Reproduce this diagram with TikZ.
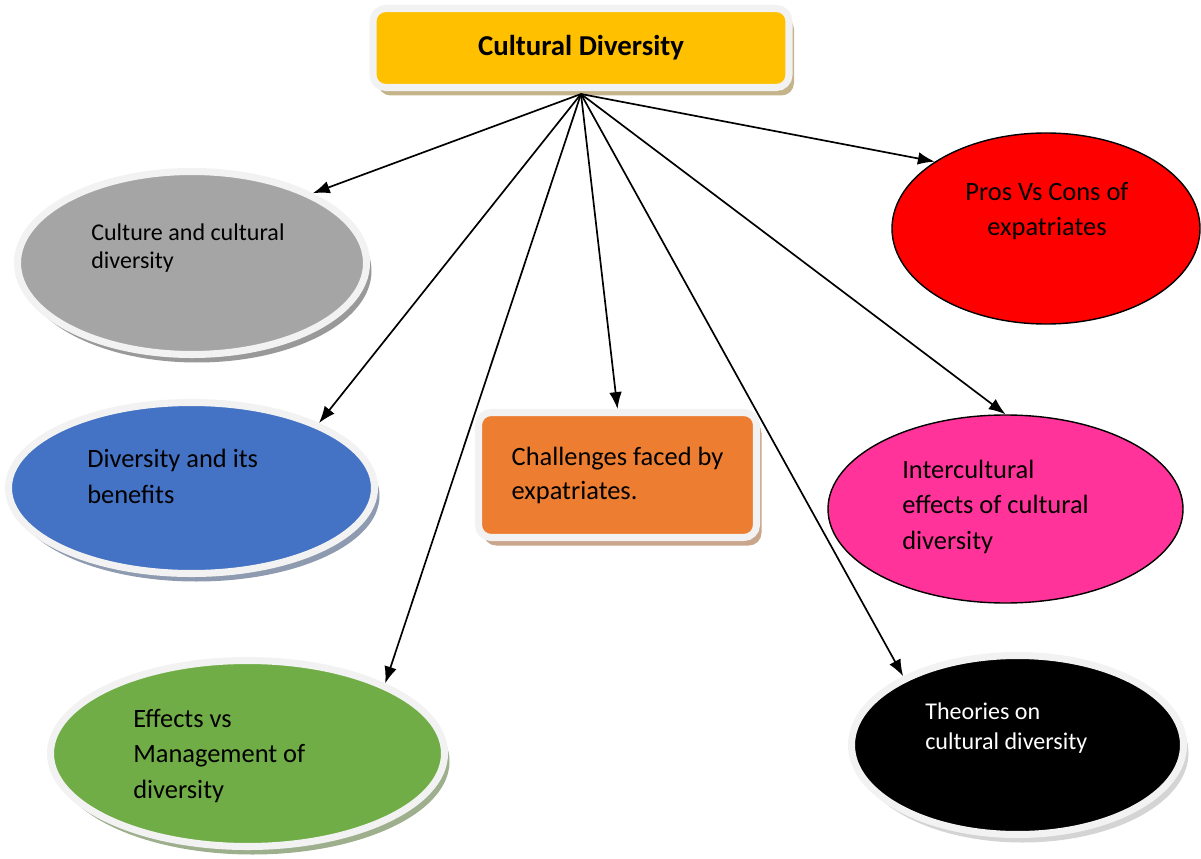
\documentclass[tikz,border=0pt]{standalone}
\usepackage{fontspec}
\setmainfont{Carlito}
\usetikzlibrary{arrows.meta,shapes.geometric,shadows}
\newcommand{\pxu}{0.025cm}
\definecolor{rim}{HTML}{F2F2F2}
\definecolor{gold}{HTML}{FFC000}
\definecolor{tan}{HTML}{C5B48B}
\definecolor{ash}{HTML}{A5A5A5}
\definecolor{ashshade}{HTML}{999999}
\definecolor{steel}{HTML}{4472C4}
\definecolor{steelshade}{HTML}{8E9AAF}
\definecolor{leaf}{HTML}{70AD47}
\definecolor{leafshade}{HTML}{9DAF8C}
\definecolor{rust}{HTML}{ED7D31}
\definecolor{rustshade}{HTML}{C9A58C}
\definecolor{rose}{HTML}{FF3399}
\definecolor{coalshade}{HTML}{D4D4D4}
\begin{document}
\begin{tikzpicture}[x=\pxu,y=-\pxu,
  bubble/.style={ellipse, draw=rim, line width=5pt, inner sep=0pt},
  card/.style={rectangle, rounded corners=9pt, draw=rim, line width=5pt},
  shade/.style={drop shadow={shadow xshift=5*\pxu, shadow yshift=-8*\pxu, fill=#1, opacity=1}},
  big/.style={font=\fontsize{18.8}{24.9}\selectfont, align=left, anchor=base west, inner sep=0pt},
  small/.style={font=\fontsize{17.1}{20.6}\selectfont, align=left, anchor=base west, inner sep=0pt},
  link/.style={-{Latex[length=12pt,width=9pt]}, line width=1.2pt}]
\useasboundingbox (0,0) rectangle (1201,859);

\node (head) [card, fill=gold, shade=tan, minimum width=416*\pxu, minimum height=79*\pxu,
  font=\fontsize{20.5}{24}\selectfont\bfseries] at (581,48) {Cultural Diversity};
\coordinate (hub) at ([yshift=-3*\pxu]head.south);

% ellipses on the left (text nodes sit on the baseline of their last line)
\node (culture) [bubble, fill=ash, shade=ashshade, minimum width=349*\pxu, minimum height=183*\pxu] at (192,263) {};
\node (cultureText) [small] at (91,269) {Culture and cultural\\diversity};
\node (benefits) [bubble, fill=steel, shade=steelshade, minimum width=366*\pxu, minimum height=171*\pxu] at (191.5,488) {};
\node (benefitsText) [big] at (87,503) {Diversity and its\\benefits};
\node (management) [bubble, fill=leaf, shade=leafshade, minimum width=394*\pxu, minimum height=186*\pxu] at (247.5,753.5) {};
\node (managementText) [big] at (133,798) {Effects vs\\Management of\\diversity};

% middle box
\node (challenges) [card, fill=rust, shade=rustshade, minimum width=278*\pxu, minimum height=125*\pxu,
  align=left, font=\fontsize{18.8}{24.2}\selectfont] at (617.5,475) {Challenges faced by\\expatriates.};

% ellipses on the right
\node (proscons) [ellipse, draw, fill=red, line width=1pt, minimum width=308*\pxu, minimum height=191*\pxu] at (1046,228.5) {};
\node (prosconsText) [big, align=center, anchor=base] at (1047,236) {Pros Vs Cons of\\expatriates};
\node (intercultural) [ellipse, draw, fill=rose, line width=1pt, minimum width=355*\pxu, minimum height=188*\pxu] at (1005.5,509) {};
\node (interculturalText) [big] at (902,549) {Intercultural\\effects of cultural\\diversity};
\node (theories) [bubble, fill=black, shade=coalshade, minimum width=332*\pxu, minimum height=179*\pxu] at (1017.5,745) {};
\node (theoriesText) [small, text=white, font=\fontsize{17.1}{21.3}\selectfont] at (925,749) {Theories on\\cultural diversity};

\draw[link] (hub) -- (culture.30);
\draw[link] (hub) -- (benefits.27);
\draw[link] (hub) -- (management.27);
\draw[link] (hub) -- (challenges.north);
\draw[link] (hub) -- (theories.149);
\draw[link] (hub) -- (intercultural.north);
\draw[link] (hub) -- (proscons.149);
\end{tikzpicture}
\end{document}
